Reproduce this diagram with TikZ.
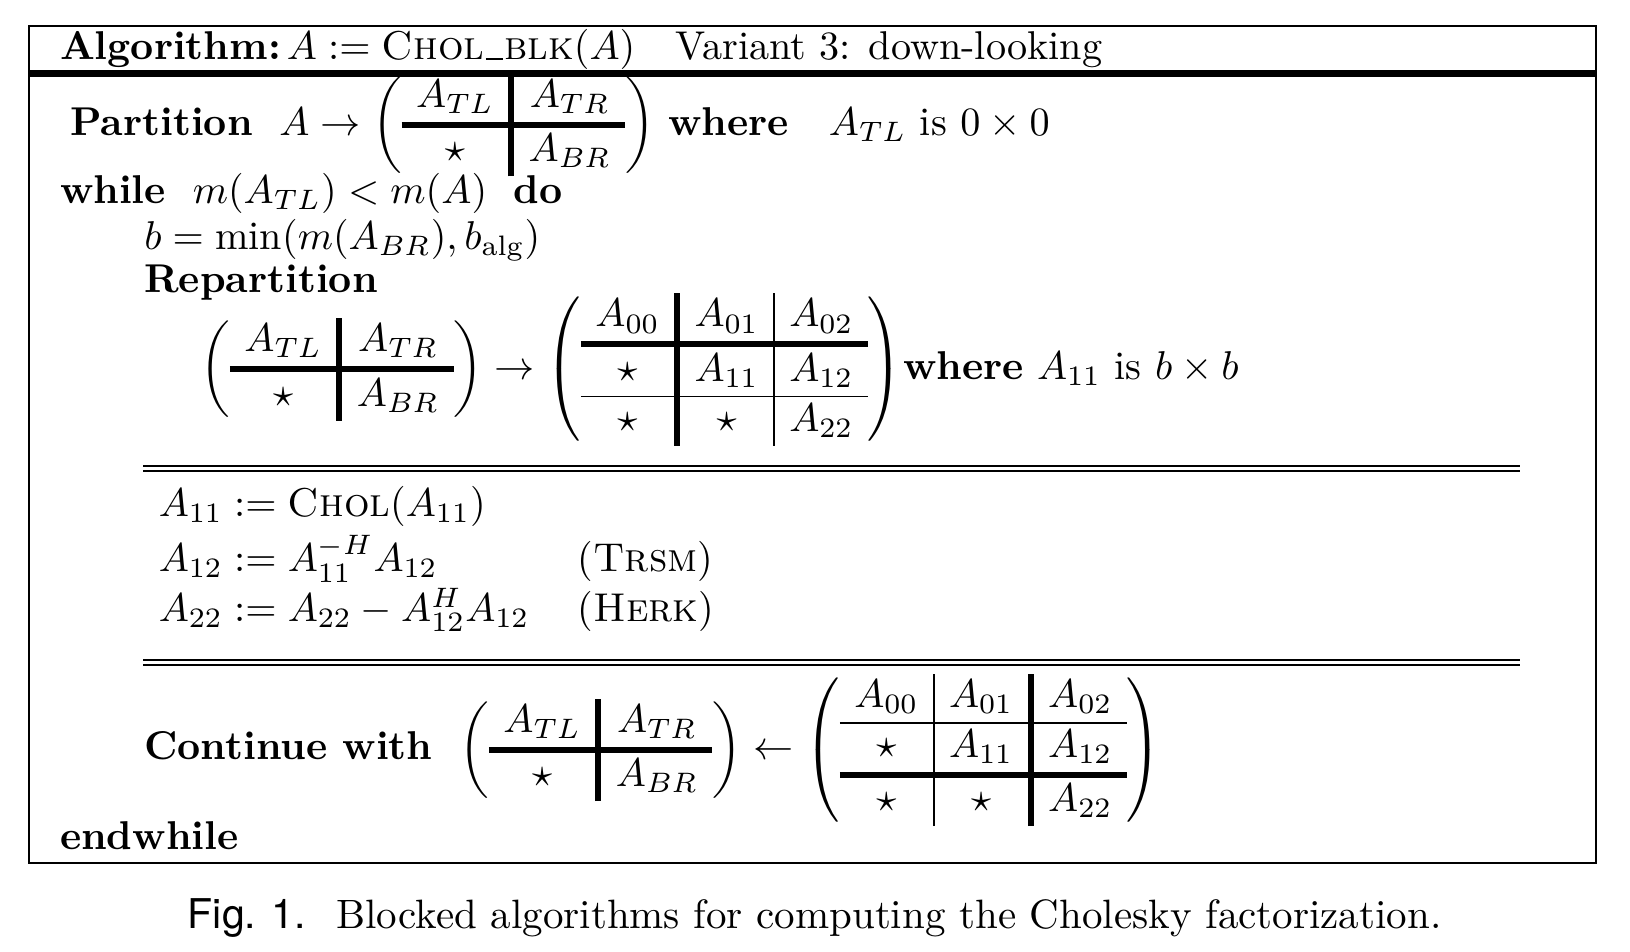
\documentclass[tikz,border=0pt]{standalone}
\usepackage{array}
\usepackage{fontspec}
\newfontfamily\captionsans{TeX Gyre Heros}
\usetikzlibrary{positioning}
\newcolumntype{I}{!{\vrule width 1.5pt}}
\newcommand{\thickrule}{\noalign{\hrule height 1.5pt}}
\newcommand{\blockTwo}[4]{\left(\begin{array}{cIc}
  #1 & #2 \\ \thickrule
  #3 & #4
\end{array}\right)}
\newcommand{\lowbar}{\kern0.04em\rule[-0.2pt]{0.42em}{0.4pt}\kern0.04em}
\setlength{\arraycolsep}{3.6pt}
\tikzset{
  txt/.style = {inner sep=0pt, anchor=base west},
  frame/.style = {line width=0.5pt},
  bar/.style = {line width=1.7pt}
}

\begin{document}
\begin{tikzpicture}[x=0.2586pt,y=-0.2586pt]
  \useasboundingbox (0,0) rectangle (1568,915);
  % frame and header
  \draw[frame] (28,25) rectangle (1535,830);
  \draw[bar] (28,71) -- (1535,71);
  \node[txt] (head) at (57,57) {\textbf{Algorithm:}\hspace{0.15em}$A := \textsc{Chol\lowbar blk}(A)$\hspace{1em}Variant 3: down-looking};
  % partition
  \node[txt] (part) at (67,130) {\textbf{Partition}\ \ $A \rightarrow \blockTwo{A_{TL}}{A_{TR}}{\star}{A_{BR}}$ \textbf{where}\ \ \ $A_{TL}$ is $0 \times 0$};
  \node[txt] (while) at (57,196) {\textbf{while}\ \ $m(A_{TL}) < m(A)$\ \ \textbf{do}};
  \node[txt] (bsize) at (138,240) {$b = \min(m(A_{BR}), b_{\rm alg})$};
  \node[txt] (repart) at (138,281) {\textbf{Repartition}};
  \node[txt] (repmat) at (192,365) {$\blockTwo{A_{TL}}{A_{TR}}{\star}{A_{BR}} \rightarrow
    \left(\begin{array}{cIc|c}
      A_{00} & A_{01} & A_{02} \\ \thickrule
      \star & A_{11} & A_{12} \\ \hline
      \star & \star & A_{22}
    \end{array}\right)$\textbf{where} $A_{11}$ is $b \times b$};
  % updates
  \draw[frame] (138,448) -- (1462,448);
  \draw[frame] (138,453) -- (1462,453);
  \node[txt] (upd1) at (152,497) {$A_{11} := \textsc{Chol}(A_{11})$};
  \node[txt] (upd2) at (152,550) {$A_{12} := A_{11}^{-H} A_{12}$};
  \node[txt] (upd3) at (152,598) {$A_{22} := A_{22} - A_{12}^H A_{12}$};
  \node[txt] (trsm) at (555,550) {(\textsc{Trsm})};
  \node[txt] (herk) at (555,598) {(\textsc{Herk})};
  \draw[frame] (138,635) -- (1462,635);
  \draw[frame] (138,640) -- (1462,640);
  % continue
  \node[txt] (cont) at (138,731) {\textbf{Continue with}\ \ $\blockTwo{A_{TL}}{A_{TR}}{\star}{A_{BR}} \leftarrow
    \left(\begin{array}{c|cIc}
      A_{00} & A_{01} & A_{02} \\ \hline
      \star & A_{11} & A_{12} \\ \thickrule
      \star & \star & A_{22}
    \end{array}\right)$};
  \node[txt] (endw) at (57,817) {\textbf{endwhile}};
  % caption
  \node[txt] (cap) at (180,893) {\fontsize{10.2}{12}\selectfont{\captionsans Fig. 1.}\hspace{0.75em}Blocked algorithms for computing the Cholesky factorization.};
\end{tikzpicture}
\end{document}
